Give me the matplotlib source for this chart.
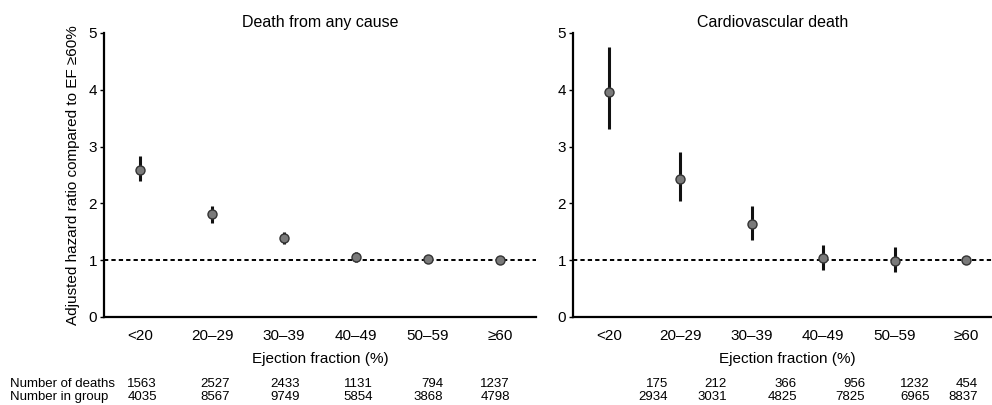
import matplotlib
matplotlib.use("Agg")
import matplotlib.pyplot as plt
import numpy as np

plt.rcParams['font.family'] = ['Liberation Sans', 'DejaVu Sans']

categories = ["<20", "20\u201329", "30\u201339", "40\u201349", "50\u201359", "\u226560"]

any_hr = [2.59, 1.81, 1.39, 1.05, 1.02, 1.00]
any_lo = [2.39, 1.66, 1.28, 0.97, 0.95, 1.00]
any_hi = [2.83, 1.95, 1.50, 1.14, 1.09, 1.00]

cv_hr = [3.96, 2.43, 1.64, 1.03, 0.99, 1.00]
cv_lo = [3.31, 2.04, 1.36, 0.82, 0.79, 1.00]
cv_hi = [4.75, 2.90, 1.96, 1.26, 1.23, 1.00]

any_deaths = ["1563", "2527", "2433", "1131", "794", "1237"]
any_group = ["4035", "8567", "9749", "5854", "3868", "4798"]
cv_deaths = ["175", "212", "366", "956", "1232", "454"]
cv_group = ["2934", "3031", "4825", "7825", "6965", "8837"]

W, H = 992, 405
fig = plt.figure(figsize=(W / 100, H / 100), dpi=100)

def px_rect(x0, x1, ytop, ybot):
    return [x0 / W, 1 - ybot / H, (x1 - x0) / W, (ybot - ytop) / H]

ax1 = fig.add_axes(px_rect(104, 536, 33, 317))
ax2 = fig.add_axes(px_rect(573, 1002, 33, 317))

def draw(ax, hr, lo, hi, title):
    x = np.arange(len(categories))
    ax.axhline(1.0, color='black', lw=1.4, ls=(0, (2.2, 1.6)), zorder=1)
    hr = np.array(hr); lo = np.array(lo); hi = np.array(hi)
    ax.errorbar(x, hr, yerr=[hr - lo, hi - hr], fmt='none', ecolor='#111111',
                elinewidth=2.2, capsize=0, zorder=2)
    ax.plot(x, hr, 'o', ms=6.5, mfc='#7a7a7a', mec='#333333', mew=1.0, zorder=3)
    ax.set_xlim(-0.5, 5.5)
    ax.set_ylim(0, 5)
    ax.set_yticks([0, 1, 2, 3, 4, 5])
    ax.set_xticks(x)
    ax.set_xticklabels(categories)
    for s in ['top', 'right']:
        ax.spines[s].set_visible(False)
    for s in ['left', 'bottom']:
        ax.spines[s].set_linewidth(1.6)
    ax.tick_params(axis='x', length=0, pad=9, labelsize=11)
    ax.tick_params(axis='y', length=3, width=1.0, pad=2, labelsize=11)
    ax.set_xlabel("Ejection fraction (%)", fontsize=11, labelpad=6)
    ax.set_title(title, fontsize=11.5, pad=4)

draw(ax1, any_hr, any_lo, any_hi, "Death from any cause")
draw(ax2, cv_hr, cv_lo, cv_hi, "Cardiovascular death")
ax2.title.set_position((0.465, 1.0))
ax1.set_ylabel("Adjusted hazard ratio compared to EF \u226560%", fontsize=11, labelpad=6)

# table below
row_y = [384, 397]
fig.text(10 / W, 1 - row_y[0] / H, "Number of deaths", fontsize=9.5, va='center', ha='left')
fig.text(10 / W, 1 - row_y[1] / H, "Number in group", fontsize=9.5, va='center', ha='left')

left_rights = [157, 230, 300, 373, 443, 510]
right_rights = [668, 727, 797, 865, 930, 978]
for xr, d, g in zip(left_rights, any_deaths, any_group):
    fig.text(xr / W, 1 - row_y[0] / H, d, fontsize=9.5, va='center', ha='right')
    fig.text(xr / W, 1 - row_y[1] / H, g, fontsize=9.5, va='center', ha='right')
for xr, d, g in zip(right_rights, cv_deaths, cv_group):
    fig.text(xr / W, 1 - row_y[0] / H, d, fontsize=9.5, va='center', ha='right')
    fig.text(xr / W, 1 - row_y[1] / H, g, fontsize=9.5, va='center', ha='right')

fig.savefig("out.png", dpi=100)
